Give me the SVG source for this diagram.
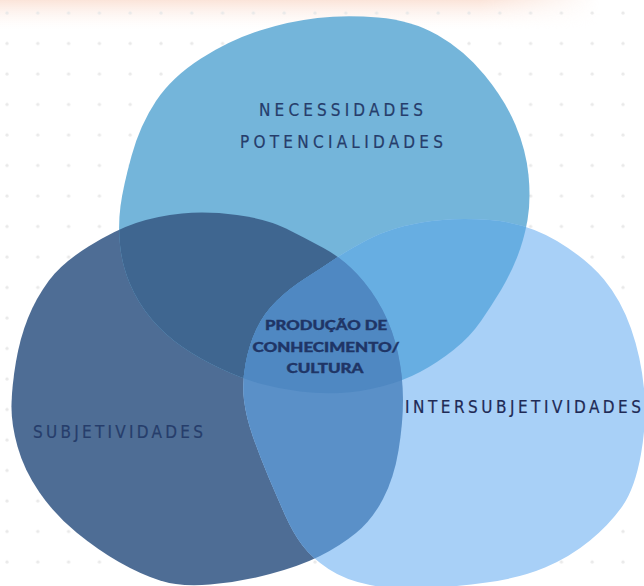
<svg xmlns="http://www.w3.org/2000/svg" xmlns:xlink="http://www.w3.org/1999/xlink" width="644" height="586" viewBox="0 0 644 586">
<defs>
<style>
.hand{font-family:"DejaVu Sans Condensed","DejaVu Sans","Liberation Sans",sans-serif;font-size:17px;fill:#263d6b;stroke:#263d6b;stroke-width:0.2px;}
.center{font-family:Lato,"Noto Sans","Liberation Sans",sans-serif;font-weight:900;font-size:14px;fill:#1f3566;stroke:#1f3566;stroke-width:0.4px;text-anchor:middle;}
</style>
<pattern id="dots" patternUnits="userSpaceOnUse" x="0" y="0" width="30.8" height="30.5">
<circle cx="7" cy="13" r="1.6" fill="#e9e9e9"/>
</pattern>
<linearGradient id="peach" x1="0" y1="0" x2="0" y2="1">
<stop offset="0" stop-color="#fbe4d9"/>
<stop offset="1" stop-color="#fff8f5" stop-opacity="0"/>
</linearGradient>
<linearGradient id="peachH" x1="0" y1="0" x2="1" y2="0">
<stop offset="0" stop-color="#fff" stop-opacity="1"/>
<stop offset="0.8" stop-color="#fff" stop-opacity="1"/>
<stop offset="1" stop-color="#fff" stop-opacity="0"/>
</linearGradient>
<mask id="peachMask"><rect x="0" y="0" width="600" height="30" fill="url(#peachH)"/></mask>
<path id="pT" d="M317.5,18 Q345,15 378,17.5 Q411,20 437.5,35 Q464,50 484.5,75 Q505,100 515.5,125 Q526,150 528.5,175 Q531,200 527.5,220 Q524,240 517,257.5 Q510,275 501,290 Q492,305 481,321 Q470,337 453.5,350 Q437,363 420,372 Q403,381 381.5,386.5 Q360,392 340,393 Q320,394 300,391.5 Q280,389 261.5,384 Q243,379 221.5,369 Q200,359 182.5,347 Q165,335 151.5,319 Q138,303 130,284 Q122,265 120,245 Q118,225 120.5,206 Q123,187 131.5,156 Q140,125 156,101 Q172,77 201,58.5 Q230,40 260,30.5 Q290,21 317.5,18 Z"/>
<path id="pL" d="M182,213.5 Q207,211 237,215 Q267,219 286,228.5 Q305,238 323.5,248 Q342,258 357,274 Q372,290 382.5,310 Q393,330 398,353.5 Q403,377 403,400 Q403,423 398.5,450.5 Q394,478 383,499 Q372,520 356,533 Q340,546 320,556 Q300,566 270,574 Q240,582 210,584.5 Q180,587 160,580.5 Q140,574 119,562 Q98,550 76.5,532.5 Q55,515 39.5,492.5 Q24,470 17.5,446.5 Q11,423 11.5,404 Q12,385 16,361.5 Q20,338 28,318 Q36,298 49,280.5 Q62,263 88.5,246.5 Q115,230 136,223 Q157,216 182,213.5 Z"/>
<path id="pR" d="M421.5,222.5 Q453,217 490,220 Q527,223 557,241 Q587,259 604,279.5 Q621,300 631,328.5 Q641,357 644,388.5 Q647,420 641,454 Q635,488 622.5,506 Q610,524 590,540.5 Q570,557 545,567.5 Q520,578 486.5,582.5 Q453,587 424,588.5 Q395,590 370,585 Q345,580 328.5,569 Q312,558 302.5,545.5 Q293,533 285,515 Q277,497 268.5,477 Q260,457 253,437 Q246,417 244,400 Q242,383 245.5,364 Q249,345 256.5,329 Q264,313 277,300.5 Q290,288 305,278.5 Q320,269 334,259.5 Q348,250 369,239 Q390,228 421.5,222.5 Z"/>
<clipPath id="cT"><use xlink:href="#pT"/></clipPath>
<clipPath id="cL"><use xlink:href="#pL"/></clipPath>
<clipPath id="cR"><use xlink:href="#pR"/></clipPath>
</defs>
<rect width="644" height="586" fill="#ffffff"/>
<rect x="0" y="0" width="600" height="30" fill="url(#peach)" mask="url(#peachMask)"/>
<rect width="644" height="586" fill="url(#dots)"/>

<g id="blob-subjetividades">
<use xlink:href="#pL" fill="#4e6d95"/>
</g>
<g id="blob-necessidades">
<use xlink:href="#pT" fill="#74b5da"/>
</g>
<g id="blob-intersubjetividades">
<use xlink:href="#pR" fill="#a8d0f7"/>
</g>
<g id="overlaps">
<g clip-path="url(#cL)"><use xlink:href="#pT" fill="#3f6690"/></g>
<g clip-path="url(#cR)"><use xlink:href="#pT" fill="#67aee2"/></g>
<g clip-path="url(#cR)"><use xlink:href="#pL" fill="#5a90c8"/></g>
<g clip-path="url(#cR)"><g clip-path="url(#cL)"><use xlink:href="#pT" fill="#4f88c2"/></g></g>
</g>
<g id="connectors"/>

<g id="label-necessidades">
<text class="hand" x="259" y="116" textLength="164" lengthAdjust="spacing">NECESSIDADES</text>
<text class="hand" x="240" y="148" textLength="203" lengthAdjust="spacing">POTENCIALIDADES</text>
</g>
<g id="label-subjetividades">
<text class="hand" x="33" y="438" textLength="170" lengthAdjust="spacing">SUBJETIVIDADES</text>
</g>
<g id="label-intersubjetividades">
<text class="hand" x="405" y="413" textLength="236" lengthAdjust="spacing" style="fill:#1f2a55;stroke:#1f2a55">INTERSUBJETIVIDADES</text>
</g>
<g id="node-producao">
<text class="center" x="326" y="330" textLength="122" lengthAdjust="spacingAndGlyphs">PRODUÇÃO DE</text>
<text class="center" x="326" y="352" textLength="147" lengthAdjust="spacingAndGlyphs">CONHECIMENTO/</text>
<text class="center" x="325" y="373" textLength="77" lengthAdjust="spacingAndGlyphs">CULTURA</text>
</g>
</svg>
